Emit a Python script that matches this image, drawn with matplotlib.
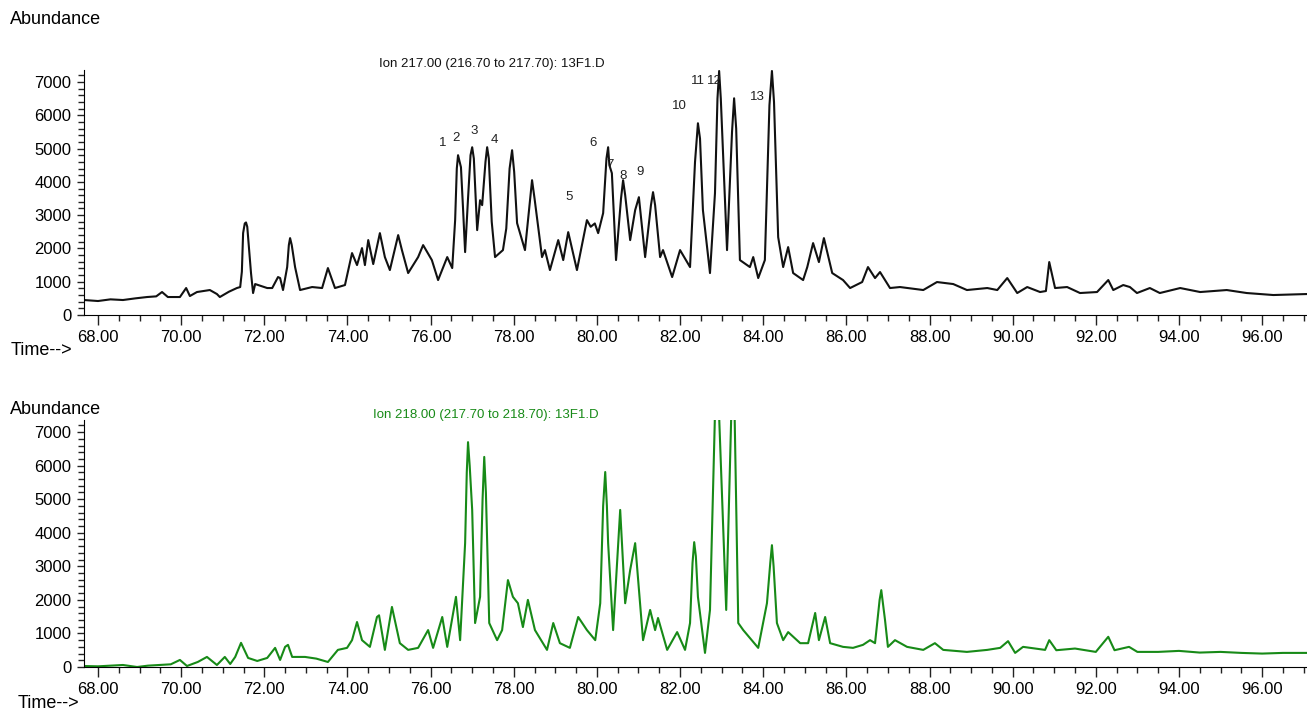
import numpy as np
import matplotlib.pyplot as plt
from matplotlib.ticker import MultipleLocator, FormatStrFormatter

plt.rcParams['font.family'] = ['Liberation Sans', 'DejaVu Sans']

# ion 217 trace (time in min, abundance)
t217 = [67.66, 68.0, 68.3, 68.6, 68.9, 69.18, 69.4, 69.54, 69.68, 69.97, 70.12, 70.21,
        70.38, 70.69, 70.86, 70.93, 71.15, 71.34, 71.42, 71.46, 71.49, 71.53, 71.56, 71.59,
        71.64, 71.68, 71.73, 71.78, 72.07, 72.19, 72.33, 72.38, 72.45, 72.55, 72.59, 72.62,
        72.66, 72.74, 72.86, 73.15, 73.39, 73.53, 73.70, 73.94, 74.11, 74.23, 74.35, 74.42,
        74.50, 74.62, 74.78, 74.90, 75.02, 75.22, 75.31, 75.46, 75.70, 75.82, 76.03, 76.18,
        76.40, 76.52, 76.59, 76.63, 76.66, 76.70, 76.73, 76.78, 76.83, 76.90, 76.96, 77.00,
        77.04, 77.12, 77.19, 77.24, 77.32, 77.36, 77.40, 77.47, 77.55, 77.74, 77.82, 77.90,
        77.96, 78.01, 78.08, 78.27, 78.38, 78.44, 78.50, 78.68, 78.75, 78.87, 79.07, 79.19,
        79.31, 79.52, 79.76, 79.85, 79.95, 80.03, 80.15, 80.23, 80.27, 80.30, 80.36, 80.46,
        80.58, 80.63, 80.68, 80.80, 80.92, 81.01, 81.16, 81.30, 81.35, 81.40, 81.52, 81.59,
        81.81, 82.00, 82.24, 82.36, 82.43, 82.48, 82.55, 82.72, 82.84, 82.90, 82.94, 82.98,
        83.13, 83.25, 83.30, 83.35, 83.44, 83.68, 83.76, 83.88, 84.04, 84.15, 84.21, 84.26,
        84.36, 84.48, 84.60, 84.72, 84.96, 85.06, 85.20, 85.34, 85.46, 85.66, 85.92, 86.09,
        86.38, 86.52, 86.69, 86.81, 87.05, 87.29, 87.85, 88.18, 88.57, 88.90, 89.39, 89.63,
        89.87, 90.11, 90.35, 90.66, 90.80, 90.88, 91.02, 91.31, 91.62, 92.03, 92.30, 92.42,
        92.66, 92.82, 92.99, 93.30, 93.54, 94.03, 94.51, 95.15, 95.63, 96.27, 97.08]
a217 = [450, 420, 470, 450, 500, 540, 560, 690, 540, 540, 810, 570,
        690, 750, 630, 540, 700, 810, 840, 1300, 2460, 2750, 2780, 2650,
        1900, 1260, 660, 930, 810, 810, 1140, 1110, 750, 1440, 2100, 2310,
        2100, 1440, 750, 840, 810, 1410, 810, 900, 1860, 1500, 2010, 1500,
        2250, 1530, 2460, 1740, 1350, 2400, 1950, 1260, 1740, 2100, 1650, 1050,
        1740, 1410, 2850, 4400, 4800, 4600, 4440, 3200, 1890, 3500, 4800, 5040,
        4700, 2550, 3450, 3300, 4600, 5040, 4700, 2800, 1740, 1950, 2600, 4400,
        4950, 4300, 2760, 1950, 3300, 4050, 3500, 1740, 1950, 1350, 2250, 1650,
        2490, 1350, 2850, 2650, 2750, 2460, 3060, 4700, 5040, 4500, 4260, 1650,
        3500, 4050, 3600, 2250, 3150, 3540, 1740, 3300, 3690, 3300, 1740, 1950,
        1140, 1950, 1440, 4600, 5760, 5300, 3150, 1260, 3660, 6500, 7330, 6500,
        1950, 5500, 6510, 5600, 1650, 1440, 1740, 1110, 1650, 6300, 7330, 6400,
        2340, 1440, 2040, 1260, 1050, 1440, 2160, 1590, 2310, 1260, 1050, 810,
        990, 1440, 1110, 1290, 810, 840, 750, 990, 930, 750, 810, 750,
        1110, 660, 840, 690, 720, 1590, 810, 840, 660, 690, 1050, 750,
        900, 840, 660, 810, 660, 810, 690, 750, 660, 600, 630]

# ion 218 trace
t218 = [67.66, 68.0, 68.3, 68.60, 68.94, 69.2, 69.49, 69.75, 69.97, 70.14, 70.40, 70.62,
        70.86, 71.05, 71.18, 71.30, 71.44, 71.61, 71.83, 72.07, 72.26, 72.38, 72.50, 72.57,
        72.67, 72.98, 73.25, 73.53, 73.77, 73.99, 74.11, 74.23, 74.35, 74.54, 74.71, 74.76,
        74.90, 75.07, 75.26, 75.46, 75.70, 75.94, 76.06, 76.28, 76.40, 76.61, 76.71, 76.83,
        76.87, 76.90, 76.94, 77.00, 77.07, 77.19, 77.25, 77.29, 77.33, 77.41, 77.60, 77.72,
        77.86, 77.98, 78.10, 78.22, 78.34, 78.51, 78.80, 78.95, 79.11, 79.35, 79.55, 79.76,
        79.96, 80.08, 80.15, 80.20, 80.24, 80.27, 80.39, 80.56, 80.68, 80.80, 80.92, 81.11,
        81.28, 81.40, 81.47, 81.69, 81.93, 82.12, 82.24, 82.30, 82.34, 82.38, 82.43, 82.60,
        82.72, 82.88, 83.11, 83.28, 83.40, 83.52, 83.88, 84.09, 84.17, 84.21, 84.25, 84.33,
        84.48, 84.60, 84.89, 85.08, 85.25, 85.34, 85.49, 85.61, 85.92, 86.16, 86.40, 86.57,
        86.69, 86.80, 86.84, 86.93, 87.00, 87.17, 87.46, 87.85, 88.13, 88.33, 88.90, 89.39,
        89.70, 89.89, 90.06, 90.25, 90.78, 90.88, 91.05, 91.50, 92.00, 92.30, 92.45, 92.80,
        93.00, 93.50, 94.00, 94.50, 95.00, 95.50, 96.00, 96.50, 97.08]
a218 = [30, 20, 40, 60, 0, 40, 60, 80, 210, 30, 150, 300,
        60, 300, 90, 300, 720, 270, 180, 270, 570, 210, 600, 660,
        300, 300, 250, 150, 510, 570, 800, 1340, 800, 600, 1490, 1540,
        510, 1790, 710, 510, 570, 1100, 570, 1490, 600, 2090, 800, 3690,
        5800, 6700, 6000, 4680, 1310, 2090, 5000, 6260, 5200, 1310, 800, 1100,
        2590, 2090, 1900, 1190, 2000, 1100, 510, 1310, 710, 570, 1490, 1100,
        800, 1900, 4800, 5810, 4800, 3690, 1100, 4680, 1900, 2890, 3690, 800,
        1700, 1100, 1460, 510, 1040, 510, 1310, 3100, 3720, 3300, 2090, 420,
        1700, 9500, 1700, 9800, 1310, 1100, 570, 1900, 3100, 3630, 3000, 1310,
        800, 1040, 710, 710, 1610, 800, 1490, 710, 600, 570, 660, 800,
        710, 2000, 2290, 1400, 600, 800, 600, 510, 710, 510, 450, 510,
        570, 770, 420, 600, 510, 800, 500, 550, 450, 900, 500, 600,
        450, 450, 480, 430, 450, 420, 400, 420, 420]

# numbered peaks on the ion 217 trace
peak_labels = ['1', '2', '3', '4', '5', '6', '7', '8', '9', '10', '11', '12', '13']
label_t = [76.30, 76.61, 77.05, 77.53, 79.33, 79.91, 80.32, 80.63, 81.04, 81.98, 82.43, 82.82, 83.85]
label_a = [5170, 5320, 5530, 5260, 3545, 5170, 4510, 4180, 4300, 6280, 7030, 7030, 6550]

W, H = 1307, 715
fig = plt.figure(figsize=(W / 100, H / 100), dpi=100)

def make_axes(y_top, y_bot):
    ax = fig.add_axes([84 / W, 1 - y_bot / H, 1 - 84 / W, (y_bot - y_top) / H])
    ax.set_xlim(67.663, 97.08)
    ax.set_ylim(0, 7360)
    ax.spines['top'].set_visible(False)
    ax.spines['right'].set_visible(False)
    ax.xaxis.set_major_locator(MultipleLocator(2))
    ax.xaxis.set_minor_locator(MultipleLocator(0.5))
    ax.xaxis.set_major_formatter(FormatStrFormatter('%.2f'))
    ax.yaxis.set_major_locator(MultipleLocator(1000))
    ax.yaxis.set_minor_locator(MultipleLocator(200))
    ax.tick_params(axis='both', which='major', direction='out', length=7, width=1,
                   labelsize=12, color='#222222')
    ax.tick_params(axis='both', which='minor', direction='out', length=4, width=1,
                   color='#222222')
    ax.tick_params(axis='y', which='major', length=5, pad=4)
    ax.tick_params(axis='x', which='major', pad=4)
    return ax

ax1 = make_axes(70, 315)
ax1.plot(t217, a217, color='#111111', lw=1.5)
for lab, x, y in zip(peak_labels, label_t, label_a):
    ax1.text(x, y, lab, fontsize=9.5, ha='center', va='center', color='#222222')

ax2 = make_axes(420, 667)
ax2.plot(t218, a218, color='#178a17', lw=1.5)

fig.text(10 / W, 1 - 20 / H, 'Abundance', fontsize=13, va='center', ha='left')
fig.text(11 / W, 1 - 350 / H, 'Time-->', fontsize=13, va='center', ha='left')
fig.text(492 / W, 1 - 64 / H, 'Ion 217.00 (216.70 to 217.70): 13F1.D',
         fontsize=9.5, va='center', ha='center', color='#111111')
fig.text(10 / W, 1 - 410 / H, 'Abundance', fontsize=13, va='center', ha='left')
fig.text(18 / W, 1 - 703 / H, 'Time-->', fontsize=13, va='center', ha='left')
fig.text(486 / W, 1 - 415 / H, 'Ion 218.00 (217.70 to 218.70): 13F1.D',
         fontsize=9.5, va='center', ha='center', color='#178a17')

fig.savefig('out.png', dpi=100)
